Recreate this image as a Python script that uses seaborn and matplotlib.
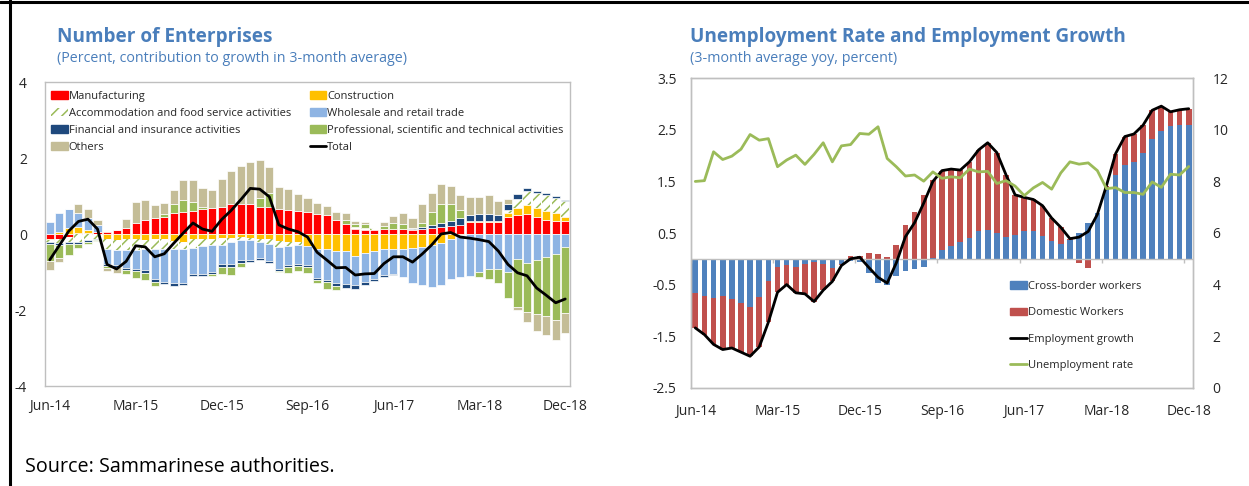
import numpy as np
import pandas as pd
import matplotlib
matplotlib.use("Agg")
import matplotlib.pyplot as plt
import seaborn as sns
from matplotlib.patches import Patch
from matplotlib.lines import Line2D

# ---------------- data ----------------
months = pd.date_range("2014-06-01", "2018-12-01", freq="MS")
month_labels = [d.strftime("%b-%y") for d in months]
tick_labels = ["Jun-14", "Mar-15", "Dec-15", "Sep-16", "Jun-17", "Mar-18", "Dec-18"]

# Number of enterprises: contributions to growth (percent, 3-month average)
manufacturing = [-0.13, -0.14, -0.07, 0.03, 0.03, 0.06, 0.05, 0.10, 0.16, 0.28,
                 0.36, 0.41, 0.45, 0.54, 0.59, 0.61, 0.65, 0.68, 0.72, 0.80,
                 0.80, 0.79, 0.72, 0.72, 0.65, 0.63, 0.60, 0.59, 0.53, 0.50,
                 0.37, 0.26, 0.12, 0.10, 0.10, 0.13, 0.13, 0.12, 0.10, 0.12,
                 0.15, 0.18, 0.20, 0.25, 0.32, 0.32, 0.32, 0.32, 0.44, 0.50,
                 0.52, 0.44, 0.37, 0.35, 0.35]
construction = [-0.04, 0.06, 0.15, 0.15, 0.08, 0.00, -0.14, -0.15, -0.14, -0.14,
                -0.15, -0.14, -0.14, -0.18, -0.20, -0.12, -0.12, -0.12, -0.10, -0.10,
                -0.09, -0.10, -0.14, -0.14, -0.18, -0.22, -0.22, -0.32, -0.40, -0.40,
                -0.46, -0.46, -0.58, -0.51, -0.44, -0.40, -0.40, -0.40, -0.38, -0.33,
                -0.29, -0.23, -0.14, -0.02, 0.02, 0.02, 0.02, 0.02, 0.10, 0.18,
                0.25, 0.24, 0.24, 0.19, 0.10]
accommodation = [-0.04, -0.10, -0.15, -0.22, -0.17, -0.13, -0.26, -0.26, -0.28, -0.28,
                 -0.25, -0.26, -0.25, -0.22, -0.20, -0.24, -0.20, -0.18, -0.18, -0.12,
                 -0.07, -0.05, -0.06, -0.13, -0.15, -0.10, -0.06, 0.00, 0.00, 0.00,
                 0.00, 0.00, 0.06, 0.07, 0.06, 0.00, 0.00, 0.00, 0.03, 0.00,
                 0.00, 0.00, 0.00, 0.00, 0.00, 0.00, 0.00, 0.00, 0.10, 0.24,
                 0.35, 0.39, 0.41, 0.42, 0.41]
wholesale = [0.31, 0.50, 0.50, 0.38, 0.30, 0.18, -0.38, -0.41, -0.48, -0.50,
             -0.56, -0.79, -0.88, -0.90, -0.88, -0.68, -0.72, -0.70, -0.50, -0.58,
             -0.53, -0.53, -0.44, -0.45, -0.60, -0.50, -0.50, -0.50, -0.76, -0.82,
             -0.82, -0.85, -0.76, -0.75, -0.75, -0.68, -0.65, -0.72, -0.90, -1.00,
             -1.11, -1.11, -1.05, -1.10, -1.10, -0.99, -0.93, -0.93, -1.00, -0.66,
             -0.75, -0.68, -0.60, -0.53, -0.35]
financial = [-0.05, -0.04, -0.04, -0.04, -0.04, -0.04, -0.05, -0.05, -0.05, -0.06,
             -0.07, -0.06, -0.05, -0.06, -0.07, -0.07, -0.06, -0.06, -0.08, -0.07,
             -0.08, -0.05, -0.04, -0.05, -0.04, -0.04, -0.05, -0.06, -0.05, -0.05,
             -0.10, -0.10, -0.10, -0.08, -0.04, -0.04, -0.03, 0.02, 0.03, 0.07,
             0.09, 0.12, 0.13, 0.16, 0.17, 0.19, 0.18, 0.15, 0.14, 0.14,
             0.09, 0.05, 0.05, 0.04, 0.03]
professional = [-0.44, -0.35, -0.28, -0.12, -0.05, -0.02, -0.07, 0.00, -0.10, -0.18,
                -0.18, -0.12, 0.07, 0.26, 0.30, 0.24, 0.07, -0.04, -0.20, -0.22,
                -0.10, 0.00, 0.22, 0.35, -0.04, -0.16, -0.14, -0.14, -0.09, -0.18,
                -0.10, 0.10, 0.08, 0.09, 0.00, 0.08, 0.15, 0.12, 0.00, 0.10,
                0.35, 0.49, 0.46, 0.22, 0.00, -0.13, -0.26, -0.37, -0.68, -1.25,
                -1.30, -1.42, -1.56, -1.72, -1.74]
others = [-0.26, -0.10, 0.00, 0.22, 0.24, 0.13, -0.08, -0.16, 0.24, 0.55,
          0.54, 0.35, 0.30, 0.36, 0.52, 0.57, 0.50, 0.48, 0.72, 0.86,
          0.98, 1.11, 1.00, 0.68, 0.60, 0.55, 0.44, 0.37, 0.28, 0.24,
          0.20, 0.20, 0.07, 0.06, 0.00, 0.10, 0.20, 0.28, 0.27, 0.49,
          0.50, 0.53, 0.47, 0.40, 0.46, 0.44, 0.50, 0.38, 0.13, -0.10,
          -0.26, -0.44, -0.50, -0.53, -0.51]
total = [-0.68, -0.30, 0.08, 0.33, 0.39, 0.13, -0.80, -0.92, -0.72, -0.31,
         -0.34, -0.60, -0.52, -0.24, 0.03, 0.29, 0.13, 0.07, 0.38, 0.62,
         0.90, 1.20, 1.18, 0.98, 0.24, 0.13, 0.06, -0.08, -0.48, -0.68,
         -0.89, -0.88, -1.08, -1.05, -1.04, -0.78, -0.60, -0.60, -0.74, -0.53,
         -0.29, 0.00, 0.04, -0.08, -0.11, -0.15, -0.20, -0.45, -0.80, -1.02,
         -1.10, -1.42, -1.61, -1.81, -1.71]

# Employment: contributions (3-month average yoy, percent) and unemployment rate
cross_border = [-0.66, -0.72, -0.76, -0.72, -0.78, -0.86, -0.94, -0.74, -0.44, -0.16,
                -0.13, -0.16, -0.10, -0.07, -0.10, -0.18, -0.10, -0.05, -0.07, -0.28,
                -0.46, -0.50, -0.34, -0.23, -0.20, -0.15, 0.02, 0.17, 0.25, 0.32,
                0.40, 0.53, 0.56, 0.50, 0.42, 0.46, 0.53, 0.53, 0.44, 0.34,
                0.29, 0.37, 0.50, 0.70, 0.89, 1.35, 1.63, 1.82, 1.87, 2.05,
                2.32, 2.48, 2.57, 2.59, 2.59]
domestic = [-0.68, -0.75, -0.90, -1.04, -0.95, -0.95, -0.95, -0.97, -0.79, -0.49,
            -0.37, -0.50, -0.58, -0.76, -0.51, -0.26, -0.03, 0.06, 0.06, 0.12,
            0.10, 0.04, 0.26, 0.65, 0.90, 1.23, 1.50, 1.54, 1.49, 1.40,
            1.48, 1.58, 1.69, 1.56, 1.21, 0.78, 0.66, 0.62, 0.59, 0.45,
            0.32, 0.02, -0.08, -0.17, -0.03, 0.07, 0.41, 0.55, 0.55, 0.54,
            0.56, 0.48, 0.28, 0.30, 0.32]
employment_growth = [-1.34, -1.47, -1.66, -1.76, -1.73, -1.81, -1.89, -1.71, -1.23, -0.65,
                     -0.50, -0.66, -0.68, -0.83, -0.61, -0.44, -0.13, 0.00, 0.03, -0.17,
                     -0.36, -0.47, -0.08, 0.43, 0.70, 1.08, 1.50, 1.71, 1.74, 1.72,
                     1.88, 2.11, 2.25, 2.06, 1.63, 1.24, 1.19, 1.15, 1.03, 0.79,
                     0.61, 0.39, 0.42, 0.53, 0.86, 1.42, 2.04, 2.37, 2.42, 2.59,
                     2.88, 2.96, 2.85, 2.89, 2.91]
unemployment_rate = [8.00, 8.03, 9.15, 8.85, 8.98, 9.25, 9.82, 9.60, 9.66, 8.57,
                     8.83, 9.02, 8.66, 9.05, 9.50, 8.76, 9.38, 9.43, 9.86, 9.83,
                     10.12, 8.89, 8.57, 8.21, 8.25, 8.01, 8.37, 8.12, 8.18, 8.14,
                     8.48, 8.37, 8.39, 7.92, 8.03, 7.82, 7.45, 7.75, 7.96, 7.70,
                     8.33, 8.76, 8.67, 8.72, 8.42, 7.72, 7.76, 7.57, 7.57, 7.50,
                     7.98, 7.77, 8.28, 8.25, 8.58]

# ---------------- style ----------------
sns.set_theme(style="white")
plt.rcParams["font.family"] = ["Open Sans", "DejaVu Sans"]
plt.rcParams["axes.unicode_minus"] = False
plt.rcParams["hatch.linewidth"] = 1.1

TITLE_BLUE = "#4A7EBB"
SPINE = "#BFBFBF"
C_MFG, C_CON, C_ACC = "#FF0000", "#FFC000", "#9BBB59"
C_WHO, C_FIN, C_PRO, C_OTH = "#8EB4E3", "#1F497D", "#9BBB59", "#C4BD97"
C_CROSS, C_DOM, C_UNEMP = "#4F81BD", "#C0504D", "#9BBB59"

W, H = 1249, 486
fig = plt.figure(figsize=(W / 100, H / 100), dpi=100)
fig.patch.set_facecolor("white")


def px_axes(x0, y0, x1, y1):
    return fig.add_axes([x0 / W, 1 - y1 / H, (x1 - x0) / W, (y1 - y0) / H])


def stacked_bars(ax, x, series, styles, width):
    pos = np.zeros(len(x))
    neg = np.zeros(len(x))
    for vals, st in zip(series, styles):
        v = np.asarray(vals, dtype=float)
        bottom = np.where(v >= 0, pos, neg)
        ax.bar(x, v, width=width, bottom=bottom, **st)
        pos += np.clip(v, 0, None)
        neg += np.clip(v, None, 0)


def frame(ax):
    for s in ax.spines.values():
        s.set_color(SPINE)
        s.set_linewidth(1.0)


x = np.arange(len(months))
tick_pos = [month_labels.index(t) for t in tick_labels]

# ---------------- left: number of enterprises ----------------
axL = px_axes(45, 82, 570, 386)
solid = dict(edgecolor="white", linewidth=0.5)
styles = [
    dict(color=C_MFG, **solid),
    dict(color=C_CON, **solid),
    dict(facecolor="white", edgecolor=C_ACC, hatch="///", linewidth=0),
    dict(color=C_WHO, **solid),
    dict(color=C_FIN, **solid),
    dict(color=C_PRO, **solid),
    dict(color=C_OTH, **solid),
]
stacked_bars(axL, x, [manufacturing, construction, accommodation, wholesale,
                      financial, professional, others], styles, 0.84)
sns.lineplot(x=x, y=total, ax=axL, color="black", linewidth=2.0, legend=False)

axL.set_xlim(-0.5, len(x) - 0.5)
axL.set_ylim(-4, 4)
axL.set_yticks([-4, -2, 0, 2, 4])
axL.set_yticklabels(["-4", "-2", "0", "2", "4"])
axL.set_xticks(tick_pos)
axL.set_xticklabels(tick_labels)
axL.tick_params(axis="y", direction="in", length=3, color=SPINE, pad=13, labelsize=10)
axL.tick_params(axis="x", length=0, pad=9, labelsize=10)
axL.set_xlabel("")
axL.set_ylabel("")
frame(axL)

legL_handles = [
    Patch(color=C_MFG), Patch(facecolor="white", edgecolor=C_ACC, hatch="///", linewidth=0),
    Patch(color=C_FIN), Patch(color=C_OTH),
    Patch(color=C_CON), Patch(color=C_WHO), Patch(color=C_PRO),
    Line2D([0], [0], color="black", linewidth=2.0),
]
legL_labels = ["Manufacturing", "Accommodation and food service activities",
               "Financial and insurance activities", "Others",
               "Construction", "Wholesale and retail trade",
               "Professional, scientific and technical activities", "Total"]
axL.legend(legL_handles, legL_labels, ncol=2, loc="upper left",
           bbox_to_anchor=(0.012, 0.972), frameon=False, fontsize=8,
           handlelength=1.5, handleheight=0.7, handletextpad=0.05,
           labelspacing=0.54, columnspacing=1.7, borderpad=0, borderaxespad=0)

# ---------------- right: unemployment and employment ----------------
axR = px_axes(690.7, 78.3, 1193.3, 387.7)
stacked_bars(axR, x, [cross_border, domestic],
             [dict(color=C_CROSS, linewidth=0), dict(color=C_DOM, linewidth=0)], 0.62)
axR.axhline(0, color=SPINE, linewidth=1.0, zorder=1)
axR.vlines(np.array(tick_pos) - 0.5, -0.08, 0, color=SPINE, linewidth=1.0)
sns.lineplot(x=x, y=employment_growth, ax=axR, color="black", linewidth=2.0, legend=False)

axR.set_xlim(-0.5, len(x) - 0.5)
axR.set_ylim(-2.5, 3.5)
yt = [-2.5, -1.5, -0.5, 0.5, 1.5, 2.5, 3.5]
axR.set_yticks(yt)
axR.set_yticklabels([f"{v:g}" for v in yt])
axR.set_xticks(tick_pos)
axR.set_xticklabels(tick_labels)
axR.tick_params(axis="y", length=0, pad=10, labelsize=10)
axR.tick_params(axis="x", length=0, pad=12, labelsize=10)
axR.set_xlabel("")
axR.set_ylabel("")
frame(axR)

axR2 = axR.twinx()
sns.lineplot(x=x, y=unemployment_rate, ax=axR2, color=C_UNEMP, linewidth=2.0, legend=False)
axR2.set_ylim(0, 12)
axR2.set_yticks(range(0, 13, 2))
axR2.tick_params(axis="y", length=0, pad=14, labelsize=10)
axR2.set_ylabel("")
frame(axR2)

legR_handles = [Patch(color=C_CROSS), Patch(color=C_DOM),
                Line2D([0], [0], color="black", linewidth=2.0),
                Line2D([0], [0], color=C_UNEMP, linewidth=2.0)]
legR_labels = ["Cross-border workers", "Domestic Workers",
               "Employment growth", "Unemployment rate"]
axR2.legend(legR_handles, legR_labels, loc="upper left",
            bbox_to_anchor=(0.635, 0.345), frameon=False, fontsize=8,
            handlelength=1.5, handleheight=0.7, handletextpad=0.1,
            labelspacing=1.38, borderpad=0, borderaxespad=0)

# ---------------- titles, source, frame ----------------
fig.text(57 / W, 1 - 37 / H, "Number of Enterprises", color=TITLE_BLUE,
         fontsize=13.7, fontweight="bold", va="center", ha="left")
fig.text(57 / W, 1 - 58 / H, "(Percent, contribution to growth in 3-month average)",
         color=TITLE_BLUE, fontsize=10.3, va="center", ha="left")
fig.text(690 / W, 1 - 37 / H, "Unemployment Rate and Employment Growth", color=TITLE_BLUE,
         fontsize=13.7, fontweight="bold", va="center", ha="left")
fig.text(690 / W, 1 - 58 / H, "(3-month average yoy, percent)",
         color=TITLE_BLUE, fontsize=10.3, va="center", ha="left")
fig.text(25 / W, 1 - 467 / H, "Source: Sammarinese authorities.", color="black",
         fontsize=14.2, va="center", ha="left")

fig.add_artist(Line2D([0, 1], [1 - 2.5 / H, 1 - 2.5 / H], transform=fig.transFigure,
                      color="black", linewidth=2.2))
fig.add_artist(Line2D([9.5 / W, 9.5 / W], [0, 1], transform=fig.transFigure,
                      color="black", linewidth=2.2))

fig.savefig("out.png", dpi=100, facecolor="white")
